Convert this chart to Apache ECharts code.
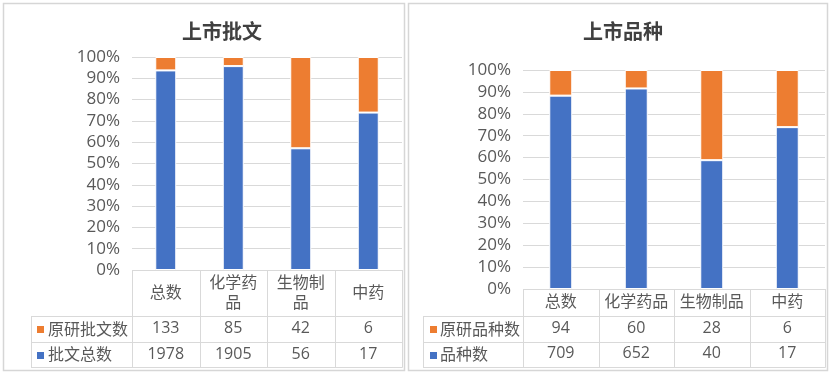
<!DOCTYPE html>
<html><head><meta charset="utf-8">
<script src="https://cdn.jsdelivr.net/npm/echarts@6/dist/echarts.min.js"></script>
<style>html,body{margin:0;padding:0;background:#fff}#c{width:831px;height:375px}</style>
</head><body><div id="c"></div>
<script>
const categories = ['总数', '化学药品', '生物制品', '中药'];
const yTickLabels = ['0%', '10%', '20%', '30%', '40%', '50%', '60%', '70%', '80%', '90%', '100%'];

const leftTitle = '上市批文';
const leftOrigName = '原研批文数';
const leftTotalName = '批文总数';
const leftOrig = [133, 85, 42, 6];
const leftTotal = [1978, 1905, 56, 17];

const rightTitle = '上市品种';
const rightOrigName = '原研品种数';
const rightTotalName = '品种数';
const rightOrig = [94, 60, 28, 6];
const rightTotal = [709, 652, 40, 17];

const BLUE = '#4472C4', ORANGE = '#ED7D31', TXT = '#595959', GRID = '#D9D9D9';
const FONT = '"Open Sans", "Noto Sans CJK SC", sans-serif';

function share(a, b) { return a.map((v, i) => v / (a[i] + b[i]) * 100); }

// layout of the two panels (pixels)
const L = { left: 132, right: 402, top: 57, bottom: 270, rows: [316, 342, 367], labelLeft: 31, hdr: 23, r1: 58, r2: 84, bw: 21, title: 217, sq: 37, tx: 48, lw: 56 };
const R = { left: 523, right: 825, top: 70, bottom: 289, rows: [316, 342, 367], labelLeft: 423, hdr: 13, r1: 39, r2: 64, bw: 23, title: 618, sq: 430, tx: 440, lw: 74 };

const grids = [], xAxes = [], yAxes = [], series = [], titles = [], graphics = [];

function line(x1, y1, x2, y2) {
  return { type: 'line', silent: true, shape: { x1, y1, x2, y2 }, style: { stroke: GRID, lineWidth: 1 } };
}

function panel(P, gi, title, origName, totalName, orig, total) {
  grids.push({ left: P.left, width: P.right - P.left, top: P.top, height: P.bottom - P.top, containLabel: false });
  const base = xAxes.length;
  const common = { type: 'category', gridIndex: gi, position: 'bottom', axisLine: { show: false }, axisTick: { show: false }, splitLine: { show: false } };
  const lab = { interval: 0, margin: 0, verticalAlign: 'middle', color: TXT, fontSize: 16, fontFamily: FONT };
  xAxes.push(Object.assign({}, common, { data: categories, offset: P.hdr, axisLabel: Object.assign({}, lab, { width: P.lw, overflow: 'break', lineHeight: 20 }) }));
  xAxes.push(Object.assign({}, common, { data: orig.map(String), offset: P.r1, axisLabel: lab }));
  xAxes.push(Object.assign({}, common, { data: total.map(String), offset: P.r2, axisLabel: lab }));
  yAxes.push({
    type: 'value', gridIndex: gi, min: 0, max: 100, interval: 10,
    axisLine: { show: false }, axisTick: { show: false },
    splitLine: { lineStyle: { color: GRID, width: 1 } },
    axisLabel: { formatter: v => yTickLabels[Math.round(v / 10)], color: TXT, fontSize: 17, fontFamily: FONT, margin: 12 }
  });
  const item = c => ({ color: c, borderColor: '#fff', borderWidth: 1 });
  series.push({ name: totalName, type: 'bar', stack: 's' + gi, xAxisIndex: base, yAxisIndex: gi, barWidth: P.bw, itemStyle: item(BLUE), data: share(total, orig), silent: true });
  series.push({ name: origName, type: 'bar', stack: 's' + gi, xAxisIndex: base, yAxisIndex: gi, barWidth: P.bw, itemStyle: item(ORANGE), data: share(orig, total), silent: true });
  titles.push({ text: title, left: P.title, top: 18, textAlign: 'center', textStyle: { fontSize: 20, fontWeight: 'bold', color: '#404040', fontFamily: FONT } });

  // table lines
  const colW = (P.right - P.left) / categories.length;
  const yb = P.rows[2] + 0.5;
  for (let i = 0; i <= categories.length; i++) {
    const x = Math.round(P.left + i * colW) + 0.5;
    graphics.push(line(x, P.bottom, x, yb));
  }
  graphics.push(line(P.labelLeft + 0.5, P.rows[0], P.labelLeft + 0.5, yb));
  P.rows.forEach(y => graphics.push(line(P.labelLeft, y + 0.5, P.right + 0.5, y + 0.5)));
  // row labels with legend keys
  const rowsC = [(P.rows[0] + P.rows[1]) / 2, (P.rows[1] + P.rows[2]) / 2];
  [[origName, ORANGE], [totalName, BLUE]].forEach(([name, col], k) => {
    graphics.push({ type: 'rect', silent: true, shape: { x: P.sq, y: Math.round(rowsC[k]) - 3, width: 7, height: 7 }, style: { fill: col } });
    graphics.push({ type: 'text', silent: true, x: P.tx, y: rowsC[k] + 1, style: { text: name, fill: TXT, font: '16px ' + FONT, textVerticalAlign: 'middle', verticalAlign: 'middle' } });
  });
}

panel(L, 0, leftTitle, leftOrigName, leftTotalName, leftOrig, leftTotal);
panel(R, 1, rightTitle, rightOrigName, rightTotalName, rightOrig, rightTotal);

graphics.unshift({ type: 'rect', silent: true, shape: { x: 3.5, y: 3.5, width: 401, height: 367 }, style: { fill: 'none', stroke: '#D6D6D6', lineWidth: 1.5 } });
graphics.unshift({ type: 'rect', silent: true, shape: { x: 408.5, y: 3.5, width: 419, height: 367 }, style: { fill: 'none', stroke: '#D6D6D6', lineWidth: 1.5 } });

const chart = echarts.init(document.getElementById('c'), null, { renderer: 'canvas' });
chart.setOption({
  animation: false,
  backgroundColor: '#fff',
  title: titles,
  grid: grids,
  xAxis: xAxes,
  yAxis: yAxes,
  series: series,
  graphic: graphics
});
</script>
</body></html>
